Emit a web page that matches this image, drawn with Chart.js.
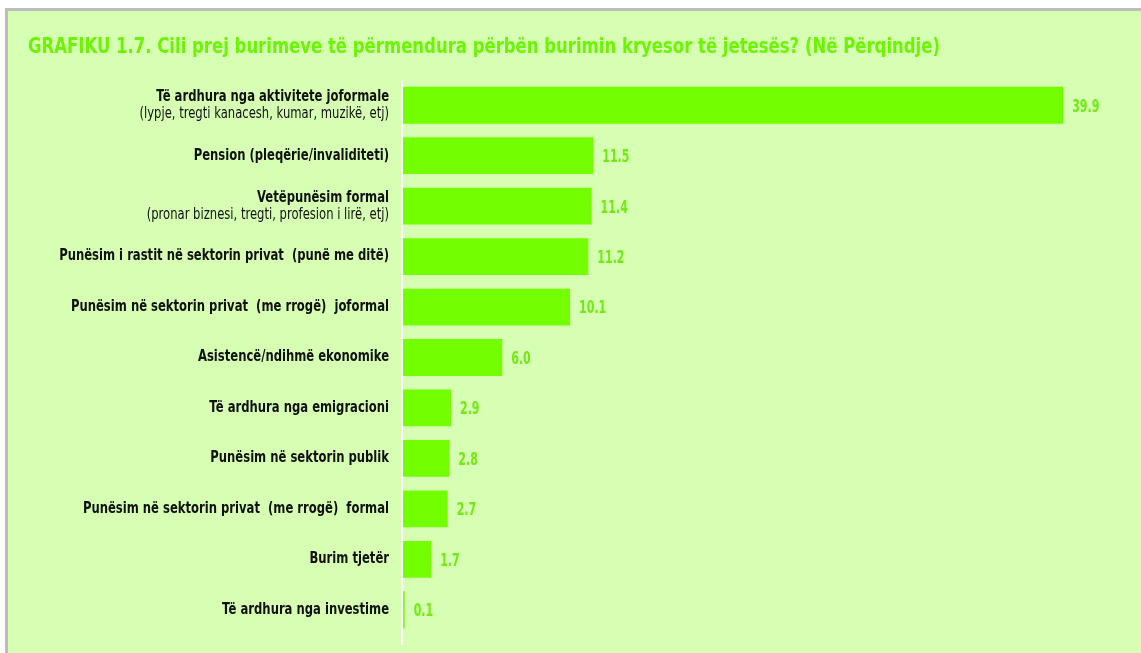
<!DOCTYPE html>
<html>
<head>
<meta charset="utf-8">
<script src="https://cdn.jsdelivr.net/npm/chart.js@4/dist/chart.umd.min.js"></script>
<style>
  html, body { margin: 0; padding: 0; background: #fff; }
  #panel {
    position: absolute; left: 5px; top: 8px; width: 1133px; height: 642px;
    border-left: 3px solid #bdbdbd; border-top: 3px solid #bdbdbd;
    background: #d6ffb4;
  }
  #chart { display: block; }
</style>
</head>
<body>
<div id="panel"><canvas id="chart" width="1133" height="642"></canvas></div>
<script>
var title = 'GRAFIKU 1.7. Cili prej burimeve të përmendura përbën burimin kryesor të jetesës? (Në Përqindje)';
var labelsMain = [
    'Të ardhura nga aktivitete joformale',
    'Pension (pleqërie/invaliditeti)',
    'Vetëpunësim formal',
    'Punësim i rastit në sektorin privat  (punë me ditë)',
    'Punësim në sektorin privat  (me rrogë)  joformal',
    'Asistencë/ndihmë ekonomike',
    'Të ardhura nga emigracioni',
    'Punësim në sektorin publik',
    'Punësim në sektorin privat  (me rrogë)  formal',
    'Burim tjetër',
    'Të ardhura nga investime'
];
var labelsSub = [
    '(lypje, tregti kanacesh, kumar, muzikë, etj)',
    '',
    '(pronar biznesi, tregti, profesion i lirë, etj)',
    '', '', '', '', '', '', '', ''
];
var values = [39.9, 11.5, 11.4, 11.2, 10.1, 6.0, 2.9, 2.8, 2.7, 1.7, 0.1];

var narrow = '"DejaVu Sans Condensed", "Liberation Sans Narrow", sans-serif';

// draw text squeezed horizontally (the original uses a condensed face)
function squeezed(ctx, text, x, y, sx, align) {
    ctx.save();
    ctx.translate(x, y);
    ctx.scale(sx, 1);
    ctx.textAlign = align;
    ctx.fillText(text, 0, 0);
    ctx.restore();
}

var titleAndLabels = {
    id: 'titleAndLabels',
    afterDraw: function(chart) {
        var ctx = chart.ctx;
        var y = chart.scales.y;
        ctx.save();
        ctx.textBaseline = 'middle';

        ctx.fillStyle = '#6cf500';
        ctx.font = 'bold 21px ' + narrow;
        var w = ctx.measureText(title).width;
        squeezed(ctx, title, 20, 37, 912 / w, 'left');

        ctx.fillStyle = '#111';
        for (var i = 0; i < labelsMain.length; i++) {
            var py = y.getPixelForValue(i);
            var x = 381;
            ctx.font = 'bold 15px ' + narrow;
            if (labelsSub[i]) {
                squeezed(ctx, labelsMain[i], x, py - 8.5, 0.86, 'right');
                ctx.font = '15px ' + narrow;
                squeezed(ctx, labelsSub[i], x, py + 8.5, 0.86, 'right');
            } else {
                squeezed(ctx, labelsMain[i], x, py, 0.86, 'right');
            }
        }
        ctx.restore();
    }
};

// white axis line and value labels
var valueLabels = {
    id: 'valueLabels',
    beforeDatasetsDraw: function(chart) {
        var ctx = chart.ctx;
        var a = chart.chartArea;
        ctx.save();
        ctx.strokeStyle = '#ffffff';
        ctx.lineWidth = 2;
        ctx.beginPath();
        ctx.moveTo(a.left - 1, a.top);
        ctx.lineTo(a.left - 1, a.bottom + 10);
        ctx.stroke();
        ctx.restore();
    },
    afterDatasetsDraw: function(chart) {
        var ctx = chart.ctx;
        var meta = chart.getDatasetMeta(0);
        ctx.save();
        ctx.fillStyle = '#70ea10';
        ctx.font = 'bold 17px ' + narrow;
        ctx.textBaseline = 'middle';
        meta.data.forEach(function(bar, i) {
            squeezed(ctx, values[i].toFixed(1), bar.x + 9, bar.y + 2, 0.72, 'left');
        });
        ctx.restore();
    }
};

new Chart(document.getElementById('chart'), {
    type: 'bar',
    data: {
        labels: labelsMain,
        datasets: [{
            data: values,
            backgroundColor: '#73ff00',
            borderWidth: 0,
            barPercentage: 0.73,
            categoryPercentage: 1.0
        }]
    },
    options: {
        indexAxis: 'y',
        responsive: false,
        animation: false,
        layout: { padding: { left: 395, right: 10, top: 69, bottom: 18 } },
        plugins: {
            legend: { display: false },
            tooltip: { enabled: false },
            title: { display: false }
        },
        scales: {
            x: { display: false, min: 0, max: 44 },
            y: {
                display: true,
                ticks: { display: false },
                grid: { display: false, drawTicks: false },
                border: { display: false }
            }
        }
    },
    plugins: [titleAndLabels, valueLabels]
});
</script>
</body>
</html>
